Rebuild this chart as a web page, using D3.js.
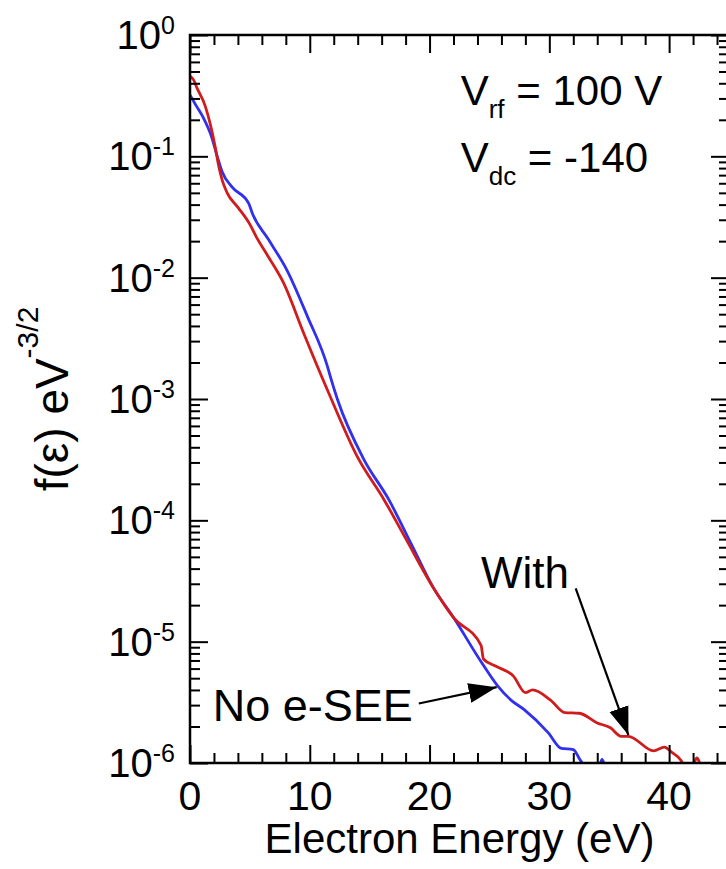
<!DOCTYPE html>
<html>
<head>
<meta charset="utf-8">
<script src="https://cdn.jsdelivr.net/npm/d3@7"></script>
<style>
  body { margin: 0; background: #fff; }
  svg { display: block; }
  text { font-family: "Liberation Sans", Arial, sans-serif; fill: #000; }
</style>
</head>
<body>
<svg width="726" height="869"></svg>
<script>
// electron energy (eV) and f(e) values
var withE = [0, 0.3, 0.6, 1.25, 1.8, 2.1, 2.4, 2.7, 3.1, 4.0, 5.0, 5.5, 6.5, 7.8, 9.5, 11.5, 14.0, 16.2, 18.0, 20.3, 22.0,
	24.3, 24.5, 25.5, 27.0, 28.0, 28.6, 30.1, 31.3, 32.5, 34.0, 35.1, 36.0, 36.6, 38.7, 39.6, 40.2, 41.0, 41.4, 41.9, 42.3, 42.7];
var withF = [4.57e-1, 4.27e-1, 3.63e-1, 2.63e-1, 1.66e-1, 1.20e-1, 8.3e-2, 6.3e-2, 5.0e-2, 3.8e-2, 2.75e-2, 2.2e-2, 1.51e-2, 9.1e-3,
	3.47e-3, 1.17e-3, 3.3e-4, 1.48e-4, 7.1e-5, 2.8e-5, 1.58e-5,
	9.3e-6, 7.2e-6, 6.3e-6, 5.2e-6, 3.8e-6, 4.0e-6, 3.3e-6, 2.6e-6, 2.57e-6, 2.14e-6, 1.95e-6, 1.66e-6, 1.66e-6, 1.26e-6, 1.35e-6,
	1.23e-6, 1.05e-6, 8.9e-7, 8.9e-7, 1.10e-6, 8.9e-7];

var noE = [0, 0.5, 1.1, 1.8, 2.3, 2.7, 3.5, 4.9, 5.2, 6.5, 8.1, 9.8, 11.5, 11.7, 12.3, 14.5, 16.6, 18.5, 20.3, 22.0,
	24.4, 25.7, 26.8, 27.9, 29.9, 31.0, 32.0, 32.6, 33.2, 34.1, 34.4, 34.7];
var noF = [3.2e-1, 2.63e-1, 2.09e-1, 1.45e-1, 9.8e-2, 7.4e-2, 5.6e-2, 4.1e-2, 3.4e-2, 2.1e-2, 1.15e-2, 4.8e-3, 1.82e-3, 1.55e-3,
	1.0e-3, 3.2e-4, 1.48e-4, 6.3e-5, 2.8e-5, 1.58e-5,
	6.6e-6, 4.3e-6, 3.3e-6, 2.75e-6, 1.78e-6, 1.32e-6, 1.29e-6, 1.05e-6, 8.9e-7, 8.9e-7, 1.07e-6, 8.9e-7];

var xTicks = [0, 10, 20, 30, 40];
var yExps = [0, -1, -2, -3, -4, -5, -6];

var svg = d3.select("svg"),
	pl = 190, pr = 729, pt = 35, pb = 763;

var x = d3.scaleLinear().domain([0, 45]).range([pl, pr]);
var y = d3.scaleLog().domain([1e-6, 1]).range([pb, pt]);

var defs = svg.append("defs");
defs.append("clipPath").attr("id", "clip")
	.append("rect").attr("x", pl).attr("y", pt).attr("width", pr - pl).attr("height", pb - pt);

var line = d3.line().x(function(d) { return x(d[0]); }).y(function(d) { return y(d[1]); }).curve(d3.curveMonotoneX);

svg.append("path").datum(d3.zip(noE, noF)).attr("clip-path", "url(#clip)")
	.attr("fill", "none").attr("stroke", "#3030ee").attr("stroke-width", 2.8).attr("d", line);
svg.append("path").datum(d3.zip(withE, withF)).attr("clip-path", "url(#clip)")
	.attr("fill", "none").attr("stroke", "#d01c1c").attr("stroke-width", 2.8).attr("d", line);

// frame
svg.append("rect").attr("x", pl).attr("y", pt).attr("width", pr - pl).attr("height", pb - pt)
	.attr("fill", "none").attr("stroke", "#000").attr("stroke-width", 2.5);

// ticks, all pointing inward
var xMinor = d3.range(0, 46, 2).filter(function(v) { return v % 10 != 0; });
var yMinor = [];
yExps.forEach(function(e) { if (e < 0) for (var k = 2; k < 10; k++) yMinor.push(k * Math.pow(10, e)); });
var yMajor = yExps.map(function(e) { return Math.pow(10, e); });

function ticks(axis, pos, vals, size) {
	svg.append("g").attr("class", "axis").attr("transform", pos)
		.call(axis.tickValues(vals).tickSize(size).tickFormat(""));
}
ticks(d3.axisTop(x), "translate(0," + pb + ")", xTicks, 18);
ticks(d3.axisTop(x), "translate(0," + pb + ")", xMinor, 10);
ticks(d3.axisBottom(x), "translate(0," + pt + ")", xTicks, 18);
ticks(d3.axisBottom(x), "translate(0," + pt + ")", xMinor, 10);
ticks(d3.axisRight(y), "translate(" + pl + ",0)", yMajor, 18);
ticks(d3.axisRight(y), "translate(" + pl + ",0)", yMinor, 10);
ticks(d3.axisLeft(y), "translate(" + pr + ",0)", yMajor, 18);
ticks(d3.axisLeft(y), "translate(" + pr + ",0)", yMinor, 10);
svg.selectAll(".axis .domain").remove();
svg.selectAll(".axis line").attr("stroke", "#000").attr("stroke-width", 2);

// tick labels
xTicks.forEach(function(v) {
	svg.append("text").attr("x", x(v)).attr("y", 810).attr("text-anchor", "middle")
		.style("font-size", "41px").text(v);
});
yExps.forEach(function(e) {
	var t = svg.append("text").attr("x", 175).attr("y", y(Math.pow(10, e)) + 14)
		.attr("text-anchor", "end").style("font-size", "40px");
	t.append("tspan").text("10");
	t.append("tspan").attr("dy", -15).style("font-size", "25px").text(e);
});

// axis titles
svg.append("text").attr("x", x(22.5)).attr("y", 853).attr("text-anchor", "middle")
	.style("font-size", "42px").text("Electron Energy (eV)");
var yt = svg.append("text").attr("transform", "translate(68," + ((pt + pb) / 2) + ") rotate(-90)")
	.attr("text-anchor", "middle").style("font-size", "46px");
yt.append("tspan").text("f(\u03b5) eV");
yt.append("tspan").attr("dy", -30).style("font-size", "30px").text("-3/2");

// conditions
var c1 = svg.append("text").attr("x", x(22.6)).attr("y", y(Math.pow(10, -0.577))).style("font-size", "42px");
c1.append("tspan").text("V");
c1.append("tspan").attr("dy", 13).style("font-size", "26px").text("rf");
c1.append("tspan").attr("dy", -13).text(" = 100 V");
var c2 = svg.append("text").attr("x", x(22.6)).attr("y", y(Math.pow(10, -1.13))).style("font-size", "42px");
c2.append("tspan").text("V");
c2.append("tspan").attr("dy", 13).style("font-size", "26px").text("dc");
c2.append("tspan").attr("dy", -13).text(" = -140");

// annotations with arrows
defs.append("marker").attr("id", "head")
	.attr("markerUnits", "userSpaceOnUse").attr("markerWidth", 30).attr("markerHeight", 22)
	.attr("refX", 28).attr("refY", 11).attr("orient", "auto")
	.append("path").attr("d", "M0,1L28,11L0,21Z").attr("fill", "#000");

svg.append("text").attr("x", x(24.3)).attr("y", y(Math.pow(10, -4.56))).style("font-size", "44px").text("With");
svg.append("line").attr("x1", x(32.2)).attr("y1", y(Math.pow(10, -4.56)))
	.attr("x2", x(36.6)).attr("y2", y(Math.pow(10, -5.77)))
	.attr("stroke", "#000").attr("stroke-width", 2.2).attr("marker-end", "url(#head)");

svg.append("text").attr("x", x(1.9)).attr("y", y(Math.pow(10, -5.65))).style("font-size", "45px").text("No e-SEE");
svg.append("line").attr("x1", x(19.1)).attr("y1", y(Math.pow(10, -5.51)))
	.attr("x2", x(25.6)).attr("y2", y(Math.pow(10, -5.375)))
	.attr("stroke", "#000").attr("stroke-width", 2.2).attr("marker-end", "url(#head)");
</script>
</body>
</html>
